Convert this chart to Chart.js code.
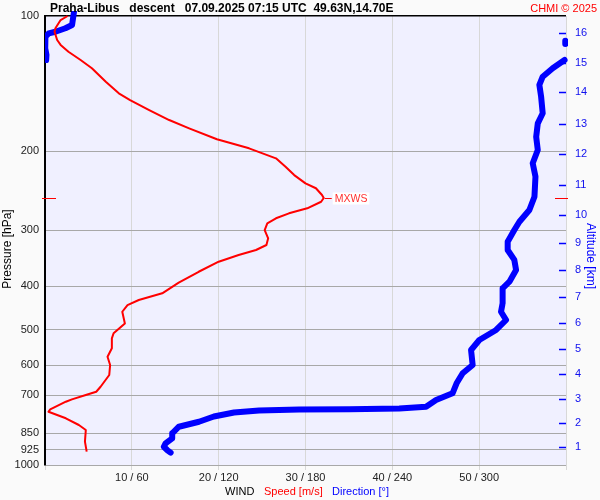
<!DOCTYPE html>
<html>
<head>
<meta charset="utf-8">
<script src="https://cdn.jsdelivr.net/npm/chart.js@4.4.1/dist/chart.umd.min.js"></script>
<style>
html, body { margin: 0; padding: 0; background: #fafafa; }
#wrap { width: 600px; height: 500px; }
</style>
</head>
<body>
<div id="wrap"><canvas id="windChart" width="600" height="500"></canvas></div>
<script>
// SOUNDING DATA (descent)
const speedPressure = [
  100, 102.1, 106.5, 108.4, 113.1, 116.0, 120.1, 125.3, 130.7, 140.1,
  148.7, 153.9, 162.0, 170.5, 177.9, 188.2, 197.1, 207.5, 216.6, 226.1,
  235.9, 241.9, 250.4, 254.3, 259.2, 268.1, 275.1, 282.2, 289.5, 299.7,
  312.7, 323.6, 332.0, 340.7, 352.6, 371.2, 392.6, 414.6, 429.1, 440.3,
  455.7, 483.8, 508.9, 522.2, 549.7, 574.1, 598.8, 630.4, 669.4, 686.8,
  698.5, 714.1, 722.8, 751.6, 760.9, 787.0, 814.5, 835.6, 887.3, 933.9
];
const speedValues = [
  2.6, 1.8, 1.2, 1.1, 1.4, 1.8, 2.7, 4.1, 5.4, 7.0,
  8.5, 9.8, 12.0, 14.3, 16.6, 19.8, 23.5, 26.6, 27.7, 28.7,
  30.0, 31.2, 31.9, 32.1, 31.8, 30.2, 28.1, 26.6, 25.6, 25.3,
  25.7, 25.5, 24.3, 22.3, 20.0, 17.7, 15.4, 13.5, 10.8, 9.5,
  8.9, 9.2, 7.9, 7.7, 7.7, 7.2, 7.5, 7.4, 6.4, 5.9,
  4.7, 3.1, 2.4, 0.6, 0.4, 2.4, 3.9, 4.7, 4.6, 4.8
];

// direction wraps round 0/360 near the top, null breaks the line
const directionPressure = [
  98, 104.7, 106.5, 108.4, 109.3, 111.2, 114.1, 118, 122, 125.3,
  null,
  113.5, 115.5,
  null,
  125.3, 130.7, 136.5, 142.4, 151.2, 164.7, 173.4, 185.8, 198.8, 212.8,
  228.0, 252.6, 270.5, 287.2, 299.7, 318.2, 332.0, 349.4, 367.9, 390.6,
  404.1, 436.4, 455.6, 475.4, 500.4, 526.8, 554.5, 598.8, 624.8, 657.7,
  692.4, 716.4, 741.5, 748.5, 751.1, 752.3, 756.2, 764.1, 779.9, 801.0,
  821.8, 850.0, 872.0, 894.7, 910.6, 926.0, 938.7
];
const directionValues = [
  20, 18.7, 14.1, 7.2, 2.6, 0.3, 0, 0.3, 1, 0.8,
  null,
  359.5, 359.5,
  null,
  359, 350.8, 343.9, 341.6, 342.8, 343.9, 340.5, 339.4, 340.5, 337.0,
  338.9, 338.2, 334.7, 327.8, 324.3, 319.7, 319.7, 324.3, 325.5, 320.9,
  316.2, 316.2, 315.1, 318.6, 311.7, 300.1, 294.4, 295.5, 288.6, 284.4,
  281.6, 270.2, 263.3, 244.8, 210.2, 175.6, 147.9, 130.6, 116.7, 106.4,
  92.5, 87.9, 87.9, 83.3, 82.1, 84.4, 86.8
];

// AXIS TICKS
const pressureTicks = [100, 200, 300, 400, 500, 600, 700, 850, 925, 1000];
const speedTicks = [0, 10, 20, 30, 40, 50, 60];
const directionTicks = [0, 60, 120, 180, 240, 300, 360];
const altitudeKm = [1, 2, 3, 4, 5, 6, 7, 8, 9, 10, 11, 12, 13, 14, 15, 16];
const altitudePressure = [
  912, 806, 713, 627, 552, 483, 423, 368, 320, 278, 238, 203, 174, 148, 127, 109
];

const FONT = "'Liberation Sans', Arial, sans-serif";

const speedPoints =
speedValues.map((v, i) => ({ x: v, y: speedPressure[i] }));

const directionPoints =
directionValues.map((v, i) => ({ x: v, y: directionPressure[i] }));

// max wind level
let maxIndex = 0;
speedValues.forEach((v, i) => {
  if (v > speedValues[maxIndex]) maxIndex = i;
});

const decorPlugin = {
  id: "decor",

  beforeDraw(chart) {
    const ctx = chart.ctx;
    const a = chart.chartArea;
    ctx.save();
    ctx.fillStyle = "#fafafa";
    ctx.fillRect(0, 0, chart.width, chart.height);
    ctx.fillStyle = "#f0f0ff";
    ctx.fillRect(a.left, a.top, a.right - a.left, a.bottom - a.top);
    ctx.restore();
  },

  afterDraw(chart) {
    const ctx = chart.ctx;
    const a = chart.chartArea;
    const sx = chart.scales.x;
    const sy = chart.scales.y;
    const sy2 = chart.scales.y2;

    ctx.save();

    // altitude tick dashes
    ctx.strokeStyle = "#0000ff";
    ctx.lineWidth = 1.5;
    altitudePressure.forEach(p => {
      const y = Math.round(sy2.getPixelForValue(p)) + 0.5;
      ctx.beginPath();
      ctx.moveTo(a.right - 7, y);
      ctx.lineTo(a.right, y);
      ctx.stroke();
    });

    // MXWS marker
    const my = Math.round(sy.getPixelForValue(speedPressure[maxIndex])) + 0.5;
    const mx = sx.getPixelForValue(speedValues[maxIndex]);
    ctx.strokeStyle = "#ff0000";
    ctx.lineWidth = 1.2;
    ctx.beginPath();
    ctx.moveTo(mx + 1, my);
    ctx.lineTo(mx + 8, my);
    ctx.moveTo(a.left - 3, my);
    ctx.lineTo(a.left + 11, my);
    ctx.moveTo(a.right - 11, my);
    ctx.lineTo(a.right + 2, my);
    ctx.stroke();

    ctx.font = "10.5px " + FONT;
    ctx.textBaseline = "middle";
    ctx.textAlign = "left";
    const tw = ctx.measureText("MXWS").width;
    ctx.fillStyle = "#ffffff";
    ctx.fillRect(mx + 9, my - 6, tw + 4, 12);
    ctx.fillStyle = "#ff3030";
    ctx.fillText("MXWS", mx + 11, my + 0.5);

    // title
    ctx.fillStyle = "#000000";
    ctx.font = "bold 12px " + FONT;
    ctx.fillText("Praha-Libus   descent   07.09.2025 07:15 UTC  49.63N,14.70E", 50, 8.5);

    ctx.fillStyle = "#ff0000";
    ctx.font = "11px " + FONT;
    ctx.textAlign = "right";
    ctx.fillText("CHMI \u00a9 2025", 597, 8.5);

    // bottom legend
    ctx.textAlign = "left";
    ctx.font = "11px " + FONT;
    ctx.fillStyle = "#000000";
    ctx.fillText("WIND", 225, 492);
    ctx.fillStyle = "#ff0000";
    ctx.fillText("Speed [m/s]", 264, 492);
    ctx.fillStyle = "#0000ff";
    ctx.fillText("Direction [\u00b0]", 332, 492);

    // axis titles
    ctx.font = "12px " + FONT;
    ctx.textAlign = "center";
    ctx.fillStyle = "#000000";
    ctx.save();
    ctx.translate(8, 249);
    ctx.rotate(-Math.PI / 2);
    ctx.fillText("Pressure [hPa]", 0, 0);
    ctx.restore();

    ctx.fillStyle = "#0000ff";
    ctx.save();
    ctx.translate(590, 256);
    ctx.rotate(Math.PI / 2);
    ctx.fillText("Altitude [km]", 0, 0);
    ctx.restore();

    ctx.restore();
  }
};

new Chart(document.getElementById("windChart"), {

  type: "scatter",

  data: {
    datasets: [
      {
        label: "Speed [m/s]",
        data: speedPoints,
        showLine: true,
        borderColor: "#ff0000",
        backgroundColor: "#ff0000",
        borderWidth: 2,
        borderJoinStyle: "round",
        pointRadius: 0,
        xAxisID: "x",
        yAxisID: "y",
        clip: { left: 0, top: 3, right: 0, bottom: 0 }
      },
      {
        label: "Direction [°]",
        data: directionPoints,
        showLine: true,
        spanGaps: false,
        borderColor: "#0000ff",
        backgroundColor: "#0000ff",
        borderWidth: 6,
        borderCapStyle: "round",
        borderJoinStyle: "round",
        pointRadius: 0,
        xAxisID: "xDir",
        yAxisID: "y",
        clip: { left: 0, top: 5, right: 2, bottom: 0 }
      }
    ]
  },

  options: {
    responsive: false,
    animation: false,
    events: [],
    layout: { padding: { top: 16, left: 0, right: 0, bottom: 0 } },

    plugins: {
      legend: { display: false },
      title: { display: false },
      tooltip: { enabled: false }
    },

    scales: {

      x: {
        type: "linear",
        position: "bottom",
        min: 0,
        max: 60,
        afterBuildTicks: s => { s.ticks = speedTicks.map(v => ({ value: v })); },
        afterFit: s => { s.height = 35; },
        ticks: {
          autoSkip: false,
          maxRotation: 0,
          padding: 1,
          color: "#222222",
          font: { family: FONT, size: 11 },
          callback: (v, i) =>
            (i === 0 || i === speedTicks.length - 1)
            ? ""
            : speedTicks[i] + " / " + directionTicks[i]
        },
        grid: {
          color: "#d8d8d8",
          lineWidth: 1,
          drawTicks: true,
          tickLength: 5
        },
        border: { display: false }
      },

      xDir: {
        type: "linear",
        display: false,
        min: 0,
        max: 360
      },

      y: {
        type: "logarithmic",
        position: "left",
        min: 100,
        max: 1000,
        reverse: true,
        afterBuildTicks: s => { s.ticks = pressureTicks.map(v => ({ value: v })); },
        afterFit: s => { s.width = 45; },
        ticks: {
          autoSkip: false,
          padding: 6,
          color: "#222222",
          font: { family: FONT, size: 11 },
          callback: (v, i) => String(pressureTicks[i])
        },
        grid: {
          drawTicks: false,
          color: c => (c.tick && c.tick.value === 100) ? "#000000" : "#a8a8a8",
          lineWidth: c => (c.tick && c.tick.value === 100) ? 1.5 : 1
        },
        border: { color: "#000000", width: 2 }
      },

      y2: {
        type: "logarithmic",
        position: "right",
        min: 100,
        max: 1000,
        reverse: true,
        afterBuildTicks: s => { s.ticks = altitudePressure.map(v => ({ value: v })); },
        afterFit: s => { s.width = 34; },
        ticks: {
          autoSkip: false,
          padding: 9,
          color: "#1010ee",
          font: { family: FONT, size: 11 },
          callback: (v, i) => String(altitudeKm[i])
        },
        grid: { drawOnChartArea: false, drawTicks: false },
        border: { display: false }
      }
    }
  },

  plugins: [decorPlugin]
});
</script>
</body>
</html>
